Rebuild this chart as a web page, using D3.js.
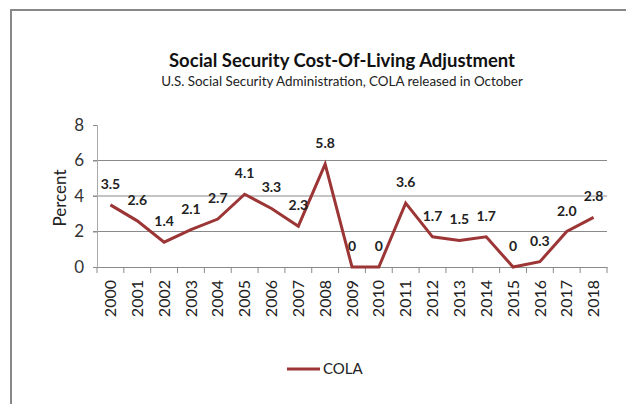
<!DOCTYPE html>
<html>
<head>
<meta charset="utf-8">
<script src="https://cdn.jsdelivr.net/npm/d3@7"></script>
<style>
  body { margin: 0; background: #fff; }
  text { font-family: Lato, "Open Sans", sans-serif; }
</style>
</head>
<body>
<svg id="chart" width="626" height="404"></svg>
<script>
const years = ['2000', '2001', '2002', '2003', '2004', '2005', '2006', '2007', '2008', '2009',
    '2010', '2011', '2012', '2013', '2014', '2015', '2016', '2017', '2018'];
const cola = [3.5, 2.6, 1.4, 2.1, 2.7, 4.1, 3.3, 2.3, 5.8, 0, 0, 3.6, 1.7, 1.5, 1.7, 0, 0.3, 2.0, 2.8];
const labels = ['3.5', '2.6', '1.4', '2.1', '2.7', '4.1', '3.3', '2.3', '5.8', '0', '0', '3.6', '1.7',
    '1.5', '1.7', '0', '0.3', '2.0', '2.8'];
const yTicks = [0, 2, 4, 6, 8];

const LINE_COLOR = '#9c3535';
const PLOT_LEFT = 97;
const PLOT_RIGHT = 607;
const PLOT_TOP = 125;
const PLOT_BOTTOM = 267;

const svg = d3.select('#chart');

// frame (only top and left edges show in the picture)
svg.append('path')
    .attr('d', 'M11,404 V10 H626')
    .attr('fill', 'none')
    .attr('stroke', '#888')
    .attr('stroke-width', 2);

const x = d3.scaleBand().domain(years).range([PLOT_LEFT, PLOT_RIGHT]);
const y = d3.scaleLinear().domain([0, 8]).range([PLOT_BOTTOM, PLOT_TOP]);

// gridlines
svg.append('g')
    .selectAll('line')
    .data(yTicks.filter(d => d > 0 && d < 8))
    .join('line')
    .attr('x1', PLOT_LEFT - 4)
    .attr('x2', PLOT_RIGHT)
    .attr('y1', d => y(d))
    .attr('y2', d => y(d))
    .attr('stroke', '#8a8a8a')
    .attr('stroke-width', 1);

// y axis
const yAxis = svg.append('g')
    .attr('transform', `translate(${PLOT_LEFT},0)`)
    .call(d3.axisLeft(y).tickValues(yTicks).tickSize(4).tickPadding(9));
yAxis.select('.domain').attr('stroke', '#aaa');
yAxis.selectAll('.tick line').attr('stroke', '#8a8a8a');
yAxis.selectAll('.tick text')
    .attr('font-size', 17)
    .attr('fill', '#333')
    .style('font-family', 'Lato, sans-serif');

// x axis
const xAxis = svg.append('g')
    .attr('transform', `translate(0,${PLOT_BOTTOM})`)
    .call(d3.axisBottom(x).tickSize(0).tickFormat(d => d));
xAxis.select('.domain').attr('stroke', '#8a8a8a');
xAxis.selectAll('.tick text')
    .attr('font-size', 16)
    .attr('fill', '#222')
    .style('font-family', 'Lato, sans-serif')
    .attr('text-anchor', 'end')
    .attr('transform', 'rotate(-90)')
    .attr('x', -13)
    .attr('y', 0)
    .attr('dy', '0.35em');
// category boundary ticks
svg.append('g')
    .selectAll('line')
    .data(years.concat(['end']))
    .join('line')
    .attr('x1', (d, i) => PLOT_LEFT + i * x.step())
    .attr('x2', (d, i) => PLOT_LEFT + i * x.step())
    .attr('y1', PLOT_BOTTOM)
    .attr('y2', PLOT_BOTTOM + 6)
    .attr('stroke', '#8a8a8a');

// y title
svg.append('text')
    .text('Percent')
    .attr('transform', `translate(66,${(PLOT_TOP + PLOT_BOTTOM) / 2 + 2}) rotate(-90)`)
    .attr('text-anchor', 'middle')
    .attr('font-size', 17)
    .attr('fill', '#222');

// line
const line = d3.line()
    .x((d, i) => x(years[i]) + x.bandwidth() / 2)
    .y(d => y(d));
svg.append('path')
    .datum(cola)
    .attr('d', line)
    .attr('fill', 'none')
    .attr('stroke', LINE_COLOR)
    .attr('stroke-width', 3)
    .attr('stroke-linejoin', 'miter');

// data labels
svg.append('g')
    .selectAll('text')
    .data(cola)
    .join('text')
    .text((d, i) => labels[i])
    .attr('x', (d, i) => x(years[i]) + x.bandwidth() / 2)
    .attr('y', d => y(d) - 16)
    .attr('text-anchor', 'middle')
    .attr('font-size', 14)
    .attr('font-weight', 'bold')
    .attr('fill', '#222');

// titles
svg.append('text')
    .text('Social Security Cost-Of-Living Adjustment')
    .attr('x', 342)
    .attr('y', 67)
    .attr('text-anchor', 'middle')
    .attr('font-size', 18.5)
    .attr('font-weight', 'bold')
    .attr('fill', '#111');
svg.append('text')
    .text('U.S. Social Security Administration, COLA released in October')
    .attr('x', 342)
    .attr('y', 86)
    .attr('text-anchor', 'middle')
    .attr('font-size', 13.4)
    .attr('fill', '#222');

// legend
svg.append('line')
    .attr('x1', 287).attr('x2', 320)
    .attr('y1', 369).attr('y2', 369)
    .attr('stroke', LINE_COLOR)
    .attr('stroke-width', 3);
svg.append('text')
    .text('COLA')
    .attr('x', 323)
    .attr('y', 374)
    .attr('font-size', 15)
    .attr('fill', '#222');
</script>
</body>
</html>
